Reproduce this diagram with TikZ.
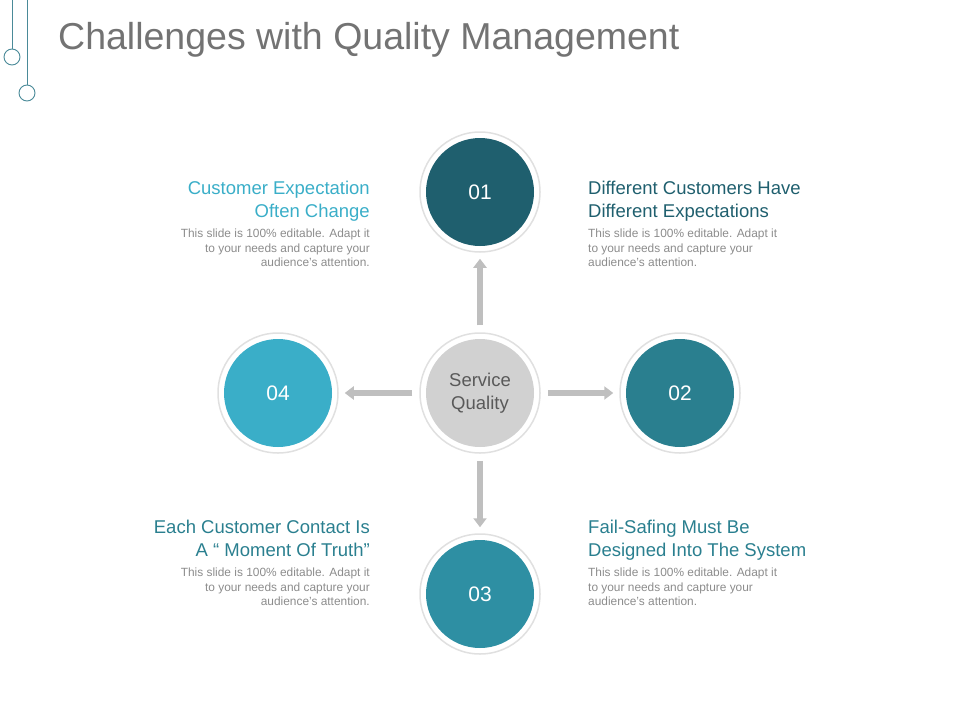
\documentclass[tikz,border=0pt]{standalone}
\usepackage{fontspec}
\setmainfont{Liberation Sans}
\usetikzlibrary{arrows.meta}
\definecolor{cA}{HTML}{1F5F6E}
\definecolor{cB}{HTML}{2A7F8F}
\definecolor{cC}{HTML}{2E8FA3}
\definecolor{cD}{HTML}{3AAEC8}
\definecolor{deco}{HTML}{4A8A98}
\tikzset{
 ring/.style={circle,fill=white,draw=black!12,line width=1.5pt,minimum size=120pt,inner sep=0pt},
 disk/.style={circle,fill=#1,minimum size=108pt,inner sep=0pt,text=white,font=\fontsize{21}{24}\selectfont},
 conn/.style={draw=black!25,line width=5.5pt,shorten <=7pt,shorten >=6pt,-{Triangle[length=9pt,width=13pt]}},
 head/.style={font=\fontsize{18.5}{23}\selectfont,inner sep=0pt},
 body/.style={font=\fontsize{11.9}{14.5}\selectfont,text=black!45,inner sep=0pt},
}
\begin{document}
\begin{tikzpicture}[x=1pt,y=-1pt]
\useasboundingbox (0,0) rectangle (960,720);
\draw[deco,line width=0.9pt] (12,0) -- (12,49) (27,0) -- (27,85);
\draw[deco,line width=0.9pt] (12,57) circle (8) (27,93) circle (8);
\node[anchor=west,text=black!55,font=\fontsize{37.5}{42}\selectfont,inner sep=0pt] (title) at (58,40) {Challenges with Quality Management};

\foreach \n/\x/\y in {r0/480/393,r1/480/192,r2/680/393,r3/480/594,r4/278/393}{
  \node[ring] (\n) at (\x,\y) {};
}
\node[disk=black!18,text=black!65,align=center,font=\fontsize{18.5}{23}\selectfont] (c0) at (480,393) {Service\\Quality};
\node[disk=cA] (c1) at (480,192) {01};
\node[disk=cB] (c2) at (680,393) {02};
\node[disk=cC] (c3) at (480,594) {03};
\node[disk=cD] (c4) at (278,393) {04};

\draw[conn] (r0) -- (r1);
\draw[conn] (r0) -- (r2);
\draw[conn] (r0) -- (r3);
\draw[conn] (r0) -- (r4);

\node[head,text=cD,align=right,anchor=north east] (h4) at (370,181) {Customer Expectation\\Often Change};
\node[body,align=right,anchor=north east] (b4) at (370,229) {This slide is 100\% editable. Adapt it\\to your needs and capture your\\audience's attention.};
\node[head,text=cA,align=left,anchor=north west] (h1) at (588,181) {Different Customers Have\\Different Expectations};
\node[body,align=left,anchor=north west] (b1) at (588,229) {This slide is 100\% editable. Adapt it\\to your needs and capture your\\audience's attention.};
\node[head,text=cB,align=right,anchor=north east] (h3) at (370,520) {Each Customer Contact Is\\A “ Moment Of Truth”};
\node[body,align=right,anchor=north east] (b3) at (370,568) {This slide is 100\% editable. Adapt it\\to your needs and capture your\\audience's attention.};
\node[head,text=cB,align=left,anchor=north west] (h2) at (588,520) {Fail-Safing Must Be\\Designed Into The System};
\node[body,align=left,anchor=north west] (b2) at (588,568) {This slide is 100\% editable. Adapt it\\to your needs and capture your\\audience's attention.};
\end{tikzpicture}
\end{document}
